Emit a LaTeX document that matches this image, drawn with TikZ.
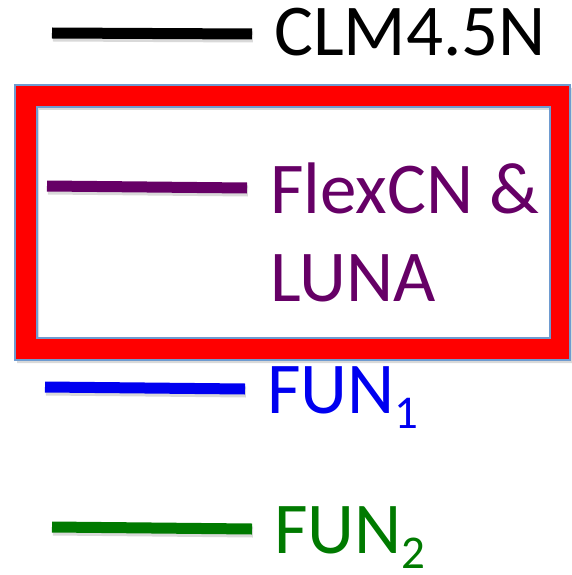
\documentclass[tikz,border=0pt]{standalone}
\usepackage{fontspec}
\setmainfont{Carlito}
\definecolor{legpurple}{HTML}{660066}
\definecolor{legblue}{HTML}{0000F0}
\definecolor{leggreen}{HTML}{007A00}
\definecolor{framered}{HTML}{FF0000}
\definecolor{frameedge}{HTML}{6E9BD0}
\begin{document}
\begin{tikzpicture}[x=1pt,y=-1pt,
  legline/.style={line width=11pt},
  legshadow/.style={line width=11pt, black, opacity=0.15},
  legtext/.style={anchor=base west, inner sep=0pt, font=\fontsize{73}{86}\selectfont}]
  \useasboundingbox (0,0) rectangle (572,575);

  % highlight frame around the FlexCN & LUNA entry
  \fill[black, opacity=0.15, even odd rule]
    (17,88) rectangle (572,363) (39,110) rectangle (553,341);
  \fill[framered, even odd rule]
    (15,85) rectangle (570,360) (37,107) rectangle (550,338);
  \draw[frameedge, line width=1.2pt] (15,85) rectangle (570,360);
  \draw[frameedge, line width=1.2pt] (37,107) rectangle (550,338);

  % legend entries
  \coordinate (k1) at (52,33);  \coordinate (k2) at (252,34);
  \coordinate (p1) at (47,186); \coordinate (p2) at (247,188);
  \coordinate (b1) at (45,387); \coordinate (b2) at (245,389);
  \coordinate (g1) at (52,527); \coordinate (g2) at (252,529);

  \foreach \a/\b in {k1/k2,p1/p2,b1/b2,g1/g2}
    \draw[legshadow] ([shift={(1,3)}]\a) -- ([shift={(1,3)}]\b);

  \draw[legline, black]      (k1) -- (k2);
  \draw[legline, legpurple]  (p1) -- (p2);
  \draw[legline, legblue]    (b1) -- (b2);
  \draw[legline, leggreen]   (g1) -- (g2);

  \node[legtext, black]     (tclm)  at (274,56)  {CLM4.5N};
  \node[legtext, legpurple] (tflex) at (270,213) {FlexCN \&};
  \node[legtext, legpurple] (tluna) at (270,301) {LUNA};
  \node[legtext, legblue]   (tfun1) at (267,413)
    {FUN\raisebox{-15pt}{\fontsize{47}{47}\selectfont 1}};
  \node[legtext, leggreen]  (tfun2) at (274,553)
    {FUN\raisebox{-15pt}{\fontsize{47}{47}\selectfont 2}};
\end{tikzpicture}
\end{document}
